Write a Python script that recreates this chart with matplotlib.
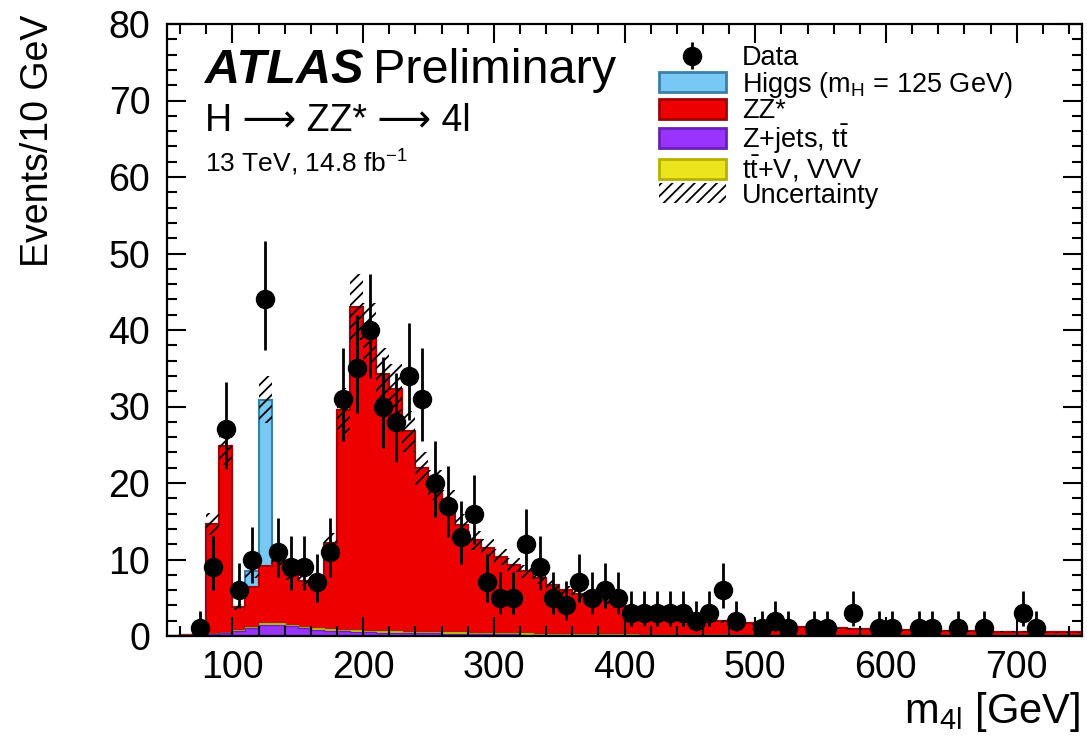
import numpy as np
import matplotlib
matplotlib.use("Agg")
import matplotlib.pyplot as plt
from matplotlib.patches import Patch

plt.rcParams["font.family"] = ["Liberation Sans", "DejaVu Sans"]
plt.rcParams["mathtext.fontset"] = "custom"
plt.rcParams["mathtext.rm"] = "Liberation Sans"
plt.rcParams["mathtext.it"] = "Liberation Sans:italic"
plt.rcParams["hatch.linewidth"] = 1.3

# bins of 10 GeV from 50 to 750
edges = np.arange(50, 760, 10)

# observed events per bin
data = [0, 0, 1, 9, 27, 6, 10, 44, 11, 9,
        9, 7, 11, 31, 35, 40, 30, 28, 34, 31,
        20, 17, 13, 16, 7, 5, 5, 12, 9, 5,
        4, 7, 5, 6, 5, 3, 3, 3, 3, 3,
        2, 3, 6, 2, 0, 1, 2, 1, 0, 1,
        1, 0, 3, 0, 1, 1, 0, 1, 1, 0,
        1, 0, 1, 0, 0, 3, 1, 0, 0, 0]

# ZZ* expectation
zz = [0, 0.02, 0.08, 14.4, 24.5, 3.05, 5.2, 7.55, 8.15, 6.65,
      6.0, 5.4, 11.3, 28.7, 42.25, 38.9, 33.55, 31.7, 26.2, 21.35,
      19.2, 16.9, 14.05, 12.05, 11.1, 10.0, 8.95, 8.15, 7.3, 6.3,
      5.7, 5.25, 4.75, 4.35, 3.9, 3.4, 3.1, 2.8, 2.65, 2.45,
      2.15, 1.95, 1.8, 1.65, 1.55, 1.4, 1.3, 1.2, 1.1, 1.05,
      1.0, 0.9, 0.86, 0.82, 0.77, 0.72, 0.68, 0.63, 0.61, 0.58,
      0.56, 0.54, 0.51, 0.49, 0.47, 0.45, 0.43, 0.41, 0.39, 0.37]

# Z+jets, ttbar
zjets = [0.05, 0.08, 0.12, 0.2, 0.35, 0.7, 1.1, 1.5, 1.5, 1.3,
         1.0, 0.8, 0.7, 0.6, 0.55, 0.5, 0.45, 0.4, 0.38, 0.35,
         0.33, 0.3, 0.28, 0.26, 0.24, 0.22, 0.2, 0.19, 0.18, 0.17,
         0.16, 0.15, 0.14, 0.13, 0.12, 0.11, 0.1, 0.1, 0.09, 0.09,
         0.08, 0.08, 0.07, 0.07, 0.06, 0.06, 0.06, 0.06, 0.05, 0.05,
         0.05, 0.05, 0.05, 0.05, 0.05, 0.05, 0.05, 0.05, 0.05, 0.05,
         0.05, 0.05, 0.05, 0.05, 0.05, 0.05, 0.05, 0.05, 0.05, 0.05]

# ttbar+V, VVV
ttv = [0, 0, 0, 0.02, 0.03, 0.05, 0.08, 0.15, 0.15, 0.15,
       0.2, 0.2, 0.2, 0.2, 0.2, 0.2, 0.2, 0.2, 0.2, 0.2,
       0.2, 0.2, 0.18, 0.18, 0.17, 0.16, 0.15, 0.15, 0.14, 0.14,
       0.13, 0.12, 0.12, 0.11, 0.1, 0.1, 0.09, 0.09, 0.08, 0.08,
       0.07, 0.07, 0.06, 0.06, 0.05, 0.05, 0.04, 0.04, 0.04, 0.04,
       0.04, 0.04, 0.04, 0.04, 0.04, 0.04, 0.04, 0.04, 0.04, 0.04,
       0.04, 0.04, 0.04, 0.04, 0.04, 0.04, 0.04, 0.04, 0.04, 0.04]

# Higgs signal (mH = 125 GeV)
higgs = [0] * 70
higgs[6] = 2.1
higgs[7] = 21.7
higgs[8] = 0.3

unc_rel = 0.10

data = np.array(data, dtype=float)
zz = np.array(zz)
zjets = np.array(zjets)
ttv = np.array(ttv)
higgs = np.array(higgs)

# stack: zjets at bottom, then ttV, ZZ*, Higgs
s1 = zjets
s2 = s1 + ttv
s3 = s2 + zz
s4 = s3 + higgs

fig = plt.figure(figsize=(10.87, 7.43), dpi=100)
ax = fig.add_axes([167 / 1087, 1 - 636 / 743, 915 / 1087, 612 / 743])

ax.stairs(s4, edges, baseline=s3, fill=True, facecolor="#77C8F5",
          edgecolor="#3C7EA8", linewidth=1.5)
ax.stairs(s3, edges, baseline=s2, fill=True, facecolor="#EE0000",
          edgecolor="#A00000", linewidth=1.5)
ax.stairs(s2, edges, baseline=s1, fill=True, facecolor="#ECE41C",
          edgecolor="#B8B000", linewidth=1.0)
ax.stairs(s1, edges, baseline=0, fill=True, facecolor="#9933FF",
          edgecolor="#6A20B8", linewidth=1.0)

# uncertainty band
ax.stairs(s4 * (1 + unc_rel), edges, baseline=s4 * (1 - unc_rel), fill=True,
          facecolor="none", edgecolor="black", hatch="///", linewidth=0)

# data with poisson errors (Wilson-Hilferty approx of Garwood interval)
centers = 0.5 * (edges[1:] + edges[:-1])
m = data > 0
n = data[m]
lo = n * (1 - 1 / (9 * n) - 1 / (3 * np.sqrt(n))) ** 3
hi = (n + 1) * (1 - 1 / (9 * (n + 1)) + 1 / (3 * np.sqrt(n + 1))) ** 3
h_data = ax.errorbar(centers[m], n, yerr=[n - lo, hi - n], fmt="o",
                     color="black", markersize=13, elinewidth=2, capsize=0,
                     zorder=5)

ax.set_xlim(50, 750)
ax.set_ylim(0, 80)
ax.set_xticks(np.arange(100, 701, 100))
ax.set_xticks(np.arange(60, 750, 20), minor=True)
ax.set_yticks(np.arange(0, 81, 10))
ax.set_yticks(np.arange(0, 81, 2), minor=True)
ax.tick_params(which="both", direction="in", top=True, right=True, width=1.5)
ax.tick_params(which="major", length=14, labelsize=27)
ax.tick_params(axis="x", which="major", pad=10)
ax.tick_params(axis="y", which="major", pad=12)
ax.tick_params(which="minor", length=7)
for sp in ax.spines.values():
    sp.set_linewidth(1.6)

ax.set_ylabel("Events/10 GeV", fontsize=27, loc="top")
ax.yaxis.set_label_coords(-0.121, 1.015)
ax.set_xlabel(r"m$_{\mathrm{4l}}$ [GeV]", fontsize=30, loc="right", va="top")
ax.xaxis.set_label_coords(0.998, -0.088)

# labels
ax.text(0.0415, 0.9036, "ATLAS", transform=ax.transAxes, fontsize=35,
        fontweight="bold", fontstyle="italic", va="baseline")
ax.text(0.225, 0.9036, "Preliminary", transform=ax.transAxes, fontsize=35,
        va="baseline")
ax.text(0.0415, 0.825, "H \u27f6 ZZ* \u27f6 4l",
        transform=ax.transAxes, fontsize=27, va="baseline",
        family=["Liberation Sans", "DejaVu Sans"])
ax.text(0.0415, 0.758, "13 TeV, 14.8 fb$^{-1}$", transform=ax.transAxes,
        fontsize=19, va="baseline")

handles = [
    h_data,
    Patch(facecolor="#77C8F5", edgecolor="#3C7EA8", linewidth=2),
    Patch(facecolor="#EE0000", edgecolor="#A00000", linewidth=2),
    Patch(facecolor="#9933FF", edgecolor="#6A20B8", linewidth=2),
    Patch(facecolor="#ECE41C", edgecolor="#B8B000", linewidth=2),
    Patch(facecolor="white", edgecolor="black", hatch="///", linewidth=0),
]
labels = [
    "Data",
    r"Higgs (m$_{\mathrm{H}}$ = 125 GeV)",
    "ZZ*",
    r"Z+jets, $\mathrm{t\bar{t}}$",
    r"$\mathrm{t\bar{t}}$+V, VVV",
    "Uncertainty",
]
ax.legend(handles, labels, loc="upper left", bbox_to_anchor=(0.538, 0.965),
          frameon=False, fontsize=19.5, handlelength=2.45, handleheight=0.75,
          handletextpad=0.6, labelspacing=-0.06, borderpad=0, borderaxespad=0)

fig.savefig("out.png", dpi=100)
